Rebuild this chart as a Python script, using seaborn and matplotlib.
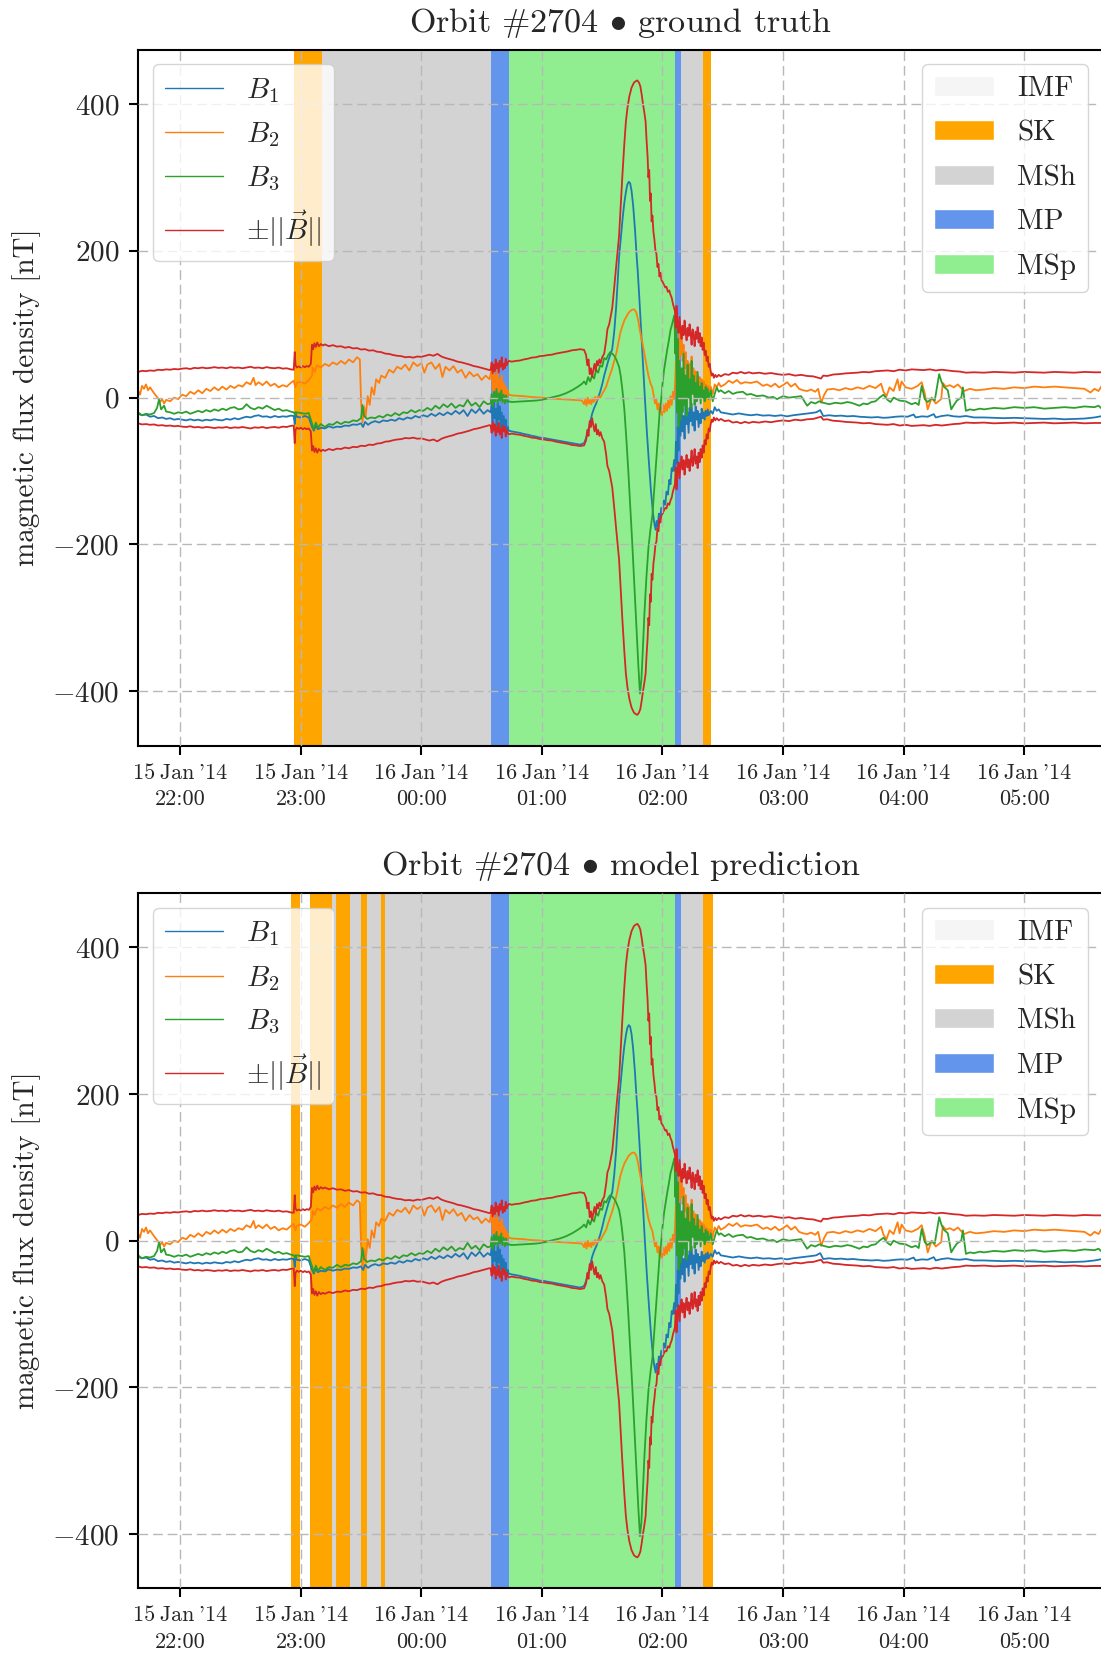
import pandas as pd
import matplotlib
matplotlib.use("Agg")
import matplotlib.pyplot as plt
import matplotlib.dates as mdates
from matplotlib.lines import Line2D
from matplotlib.patches import Patch
import seaborn as sns

# minutes after 15 Jan 2014 22:00, value in nT
bmag_pts = [
    (-21, 35), (-19, 36.5), (-17, 36), (-15, 37), (-13, 36.5), (-11, 38), (-9, 37.5), (-7, 38.5), (-5, 38), (-3, 39),
    (-1, 38.5), (1, 39.5), (3, 40), (5, 39), (7, 40.5), (9, 40), (11, 41), (13, 40), (15, 40.5), (17, 41.5),
    (19, 40.5), (21, 41), (23, 40), (25, 41.5), (27, 40.5), (29, 41), (31, 40), (33, 41), (35, 42), (37, 40.5),
    (39, 41), (41, 40), (43, 41.5), (45, 40.5), (47, 40), (49, 41), (51, 39.5), (53, 40), (55, 38.5), (56.5, 38),
    (57, 62), (57.4, 44), (58, 41), (59, 42.5), (60, 41), (61, 43), (62, 41.5), (63, 43), (64, 42), (65, 46),
    (65.6, 72), (66.2, 66), (66.8, 74), (67.5, 69), (68.2, 75), (69, 70), (70, 73), (71, 71), (72, 72.5), (74, 70),
    (76, 71.5), (78, 69.5), (80, 70), (82, 68), (84, 69), (86, 67), (88, 67.5), (90, 65.5), (92, 66), (94, 64),
    (96, 64.5), (98, 62.5), (100, 62), (102, 60), (104, 59.5), (106, 58), (108, 57), (110, 56.5), (112, 55), (114, 55.5),
    (116, 54.5), (118, 56), (120, 55.5), (122, 57), (124, 58.5), (126, 57), (128, 59.5), (130, 56), (132, 54), (134, 52.5),
    (136, 51), (138, 49), (140, 48), (142, 46.5), (144, 45), (146, 43), (148, 42), (150, 40.5), (152, 39), (154, 37.5),
    (154.5, 38), (155, 48), (155.5, 33), (156, 45), (156.5, 36), (157, 52), (157.5, 40), (158, 47), (158.5, 34), (159, 50),
    (159.5, 42), (160, 55), (160.5, 38), (161, 46), (161.5, 40), (162, 53), (162.5, 44), (163, 48), (163.5, 50),
    (165, 49), (167, 50), (169, 50.5), (171, 52), (173, 53), (175, 54.5), (177, 55), (179, 56.5), (181, 57), (183, 58),
    (185, 58.5), (187, 60), (189, 61), (191, 62), (193, 63), (195, 64.5), (197, 65), (199, 66), (201, 65), (202, 58),
    (202.6, 44), (203.2, 52), (203.8, 32), (204.4, 40), (205, 28), (205.6, 38), (206.2, 46), (206.8, 36), (207.4, 50), (208, 44),
    (208.6, 52), (209.2, 47), (210, 55), (211, 60), (212, 78), (212.6, 93), (213.5, 100), (214.3, 112), (215, 122), (216, 150),
    (217, 180), (218.4, 220), (219.2, 260), (220, 300), (221, 345), (221.8, 376), (222.6, 395), (223.5, 410), (224.6, 422), (225.8, 429),
    (226.7, 431), (227.5, 432), (228.3, 429), (229, 424), (229.7, 412), (230.3, 400), (231, 388), (231.6, 376), (232.1, 350), (232.6, 328),
    (233, 300), (233.4, 310), (233.8, 268), (234.2, 278), (234.6, 240), (235, 248), (235.5, 226), (236, 215), (236.5, 200), (237, 196),
    (237.5, 178), (238, 182), (238.5, 165), (239, 170), (239.5, 160), (240, 158), (240.7, 154), (241.4, 150), (242, 151), (242.7, 144),
    (243.4, 146), (244, 140), (244.6, 136), (245.2, 128), (245.8, 122), (246.2, 118),
    (246.6, 95), (247, 125), (247.5, 100), (248, 88), (248.5, 110), (249, 92), (249.5, 80), (250, 98), (250.5, 85), (251, 105),
    (251.5, 90), (252, 78), (252.5, 95), (253, 84), (253.5, 100), (254, 88), (254.5, 72), (255, 93), (255.5, 85), (256, 70),
    (256.5, 90), (257, 80), (257.5, 96), (258, 75), (258.5, 88), (259, 70), (259.5, 82), (260, 65), (260.5, 75), (261, 58),
    (261.5, 64), (262, 50), (262.5, 56), (263, 42), (263.5, 46), (264, 36), (264.5, 30), (265, 33), (265.6, 27), (266.3, 31),
    (267, 28), (268, 31), (269, 29),
    (271, 32), (273, 31), (275, 34), (277, 33), (279, 35), (281, 33), (283, 34.5), (285, 33), (288, 34), (291, 32.5),
    (294, 33.5), (297, 32), (300, 31), (303, 32), (306, 30), (309, 31), (312, 29.5), (315, 29), (317, 27.5), (318.9, 26),
    (320, 30), (322, 29.5), (325, 31.5), (328, 32), (331, 33), (334, 33.5), (337, 34), (340, 35), (343, 34.5), (346, 36),
    (349, 36.5), (352, 37), (355, 36), (358, 38), (361, 37), (364, 38.5), (367, 38), (370, 37.5), (373, 38.5), (376, 37),
    (379, 38), (382, 37), (385, 36), (388, 35.5), (391, 34), (395, 34.5), (400, 34), (405, 35), (410, 34.5), (415, 34),
    (420, 35), (425, 34.5), (430, 34), (435, 35), (440, 34.5), (445, 34), (450, 35), (455, 34.5), (459, 34.5),
]

b1_pts = [
    (-21, -22), (-19, -24), (-17, -23), (-15, -26), (-13, -25), (-11, -28), (-9, -27), (-7, -29), (-5, -28), (-3, -30),
    (-1, -29), (1, -30), (3, -31), (5, -29.5), (7, -31), (9, -30), (11, -31.5), (13, -30), (15, -31), (17, -29.5),
    (19, -30.5), (21, -31), (23, -29), (25, -30), (27, -28), (29, -29.5), (31, -27.5), (33, -26), (35, -27), (37, -25),
    (39, -24), (41, -26), (43, -25.5), (45, -27), (47, -25), (49, -26.5), (51, -25.5), (53, -26), (55, -24.5), (56.5, -25),
    (57, -36), (57.4, -20), (58, -26), (60, -27), (62, -25), (64, -27), (65.6, -40), (66.5, -45), (67.5, -38), (68.5, -43),
    (70, -41), (72, -42), (74, -39), (76, -41), (78, -39.5), (80, -40), (82, -38), (84, -38.5), (86, -36.5), (88, -37),
    (90, -35), (91, -40), (92, -33), (93.5, -37), (95, -34), (97, -32), (99, -34), (101, -31), (103, -32), (105, -30),
    (107, -31.5), (109, -28), (111, -30), (113, -27), (115, -28.5), (117, -25), (119, -27), (121, -24), (123, -26), (125, -22),
    (127, -25), (129, -21), (131, -24), (133, -20), (135, -23), (137, -18), (139, -22), (141, -17), (143, -25), (145, -16),
    (147, -21), (149, -15), (151, -22), (153, -17), (154.5, -20),
    (155, -10), (155.5, -35), (156, -5), (156.5, -28), (157, -15), (157.5, -38), (158, -8), (158.5, -30), (159, -12), (159.5, -40),
    (160, -20), (160.5, -45), (161, -25), (161.5, -42), (162, -30), (162.5, -48), (163, -40), (163.5, -45),
    (165, -46), (167, -47), (169, -48), (171, -49.5), (173, -50.5), (175, -52), (177, -53), (179, -54.5), (181, -55), (183, -56),
    (185, -57), (187, -58), (189, -59), (191, -60), (193, -61), (195, -62), (197, -63), (199, -64), (201, -62), (202, -55),
    (203, -45), (204, -34), (205, -22), (206, -14), (207, -8), (208, 0), (209, 8), (210, 18), (211, 30), (212, 40),
    (213, 50), (214, 58), (215, 66), (216, 90), (217, 125), (218.4, 191), (219.3, 218), (220.2, 245), (221, 265), (221.8, 280),
    (222.5, 290), (223.2, 294), (223.9, 292), (224.6, 282), (225.4, 262), (226.3, 230), (227.1, 195), (227.7, 172), (228.5, 135), (229.4, 90),
    (230.3, 45), (231.2, 2), (232.2, -45), (233.3, -90), (234.3, -128), (235.3, -158), (236, -172), (236.6, -180), (237.1, -168), (237.6, -176),
    (238.2, -158), (238.8, -166), (239.4, -150), (240, -158), (240.7, -140), (241.4, -146), (242, -128), (242.7, -132), (243.4, -112), (244, -118),
    (244.6, -96), (245.2, -100), (245.8, -85),
    (246.3, -100), (246.7, -60), (247.2, -90), (247.6, -40), (248, -72), (248.5, -20), (249, -52), (249.5, -15), (250, -46), (250.5, -25),
    (251, -56), (251.5, -10), (252, -36), (252.5, -20), (253, -48), (253.5, -14), (254, -32), (254.5, -8), (255, -38), (255.5, -20),
    (256, -45), (256.5, -12), (257, -30), (257.5, -18), (258, -40), (258.5, -22), (259, -35), (259.5, -15), (260, -28), (260.5, -20),
    (261, -30), (261.5, -18), (262, -25), (262.5, -16), (263, -24), (264, -18), (265, -22), (266, -13), (267, -18), (268, -16),
    (269, -20),
    (271, -21), (273, -22), (275, -23), (278, -21.5), (281, -23), (284, -24), (287, -23), (290, -24.5), (293, -24), (296, -25),
    (299, -24), (302, -25.5), (305, -24), (308, -23), (311, -22), (314, -21), (316.5, -20), (318.5, -17), (320, -25), (323, -24),
    (326, -25), (329, -24.5), (332, -25.5), (335, -25), (338, -26), (341, -26.5), (344, -27), (347, -26.5), (350, -27.5), (353, -27),
    (356, -26), (359, -25.5), (362, -26), (365, -23), (366, -27), (369, -25.5), (372, -26), (375, -22.5), (376, -27), (379, -25),
    (382, -24), (385, -25.5), (388, -26), (391, -25), (395, -27), (400, -27), (405, -27.5), (410, -28), (415, -27.5), (420, -28),
    (425, -28.5), (430, -29), (435, -28.5), (440, -29.5), (445, -29), (450, -28.5), (455, -27), (459, -25),
]

b2_pts = [
    (-21, 10), (-20, 4), (-19, 16), (-18, 12), (-17, 18), (-16, 10), (-15, 14), (-13, 6), (-11, -1), (-10, -6),
    (-9, -2), (-8, -8), (-7, -3), (-5, -5), (-3, 0), (-1, -2), (1, 4), (3, 2), (5, 8), (7, 5),
    (9, 10), (11, 6), (13, 12), (15, 9), (17, 14), (19, 10), (21, 15), (23, 11), (25, 16), (27, 13),
    (29, 17), (31, 15), (33, 21), (35, 18), (36.5, 27), (37.5, 17), (39, 21), (41, 17), (43, 22), (45, 16),
    (47, 19), (49, 14), (51, 17), (53, 15), (55, 20), (56.5, 23),
    (57.3, 14), (58, 20), (60, 22), (62, 19), (64, 24), (65.6, 30), (66, 41), (67, 35), (68, 44), (70, 41),
    (72, 46), (74, 43), (76, 48), (78, 45), (80, 50), (82, 46), (84, 52), (86, 48), (88, 55), (89.4, 52),
    (90, -5), (90.7, -34), (91.5, -12), (92.3, -26), (93.3, 2), (94.3, -10), (95.3, 14), (96.5, 4), (97.5, 25), (99, 20),
    (100, 30), (102, 27), (104, 38), (106, 34), (108, 42), (110, 39), (112, 45), (114, 37), (116, 48), (118, 43),
    (120, 47), (121.5, 34), (123, 45), (125, 48), (127, 39), (129, 46), (130.5, 28), (132, 42), (134, 37), (136, 43),
    (138, 34), (140, 38), (142, 27), (144, 35), (146, 29), (148, 32), (150, 24), (152, 30), (154, 25),
    (155, 40), (155.5, 10), (156, 35), (156.5, -5), (157, 30), (157.5, 5), (158, 42), (158.5, 0), (159, 25), (159.5, 8),
    (160, 30), (160.5, -6), (161, 20), (161.5, 4), (162, 15), (162.5, -2), (163, 10), (163.5, 4),
    (165, 3), (168, 2.5), (171, 2), (174, 1), (177, 0.5), (180, 0), (183, -1), (186, -1.5), (189, -2), (192, -2.5),
    (195, -3), (198, -3.5), (200, -4), (201, -9), (201.6, -2), (202.2, -11), (202.8, 0), (203.4, -8), (204, -3), (204.6, -9),
    (205.2, -1), (205.8, -6), (206.5, 1), (207.2, -4), (208, 2), (209, 0), (210, 5), (211, 10), (212, 15), (213, 24),
    (214, 32), (215, 40), (216, 50), (217, 60), (218, 74), (219, 88), (220, 97), (221, 105), (222, 110), (223, 115),
    (224, 118), (225, 120), (226, 120), (227, 116), (228, 104), (229, 88), (230, 75), (231, 60), (232, 45), (233, 30),
    (234, 20), (235, 13), (235.7, 2), (236.3, -8), (236.9, -2), (237.5, -16), (238.1, -8), (238.6, -22), (239.2, -12), (239.8, -24),
    (240.4, -10), (241, -20), (241.6, -8), (242.2, -18), (242.8, -4), (243.4, -14), (244, 2), (244.6, -10), (245.2, 8), (245.8, -2),
    (246.3, 20), (246.7, 50), (247.2, 10), (247.6, 62), (248, 30), (248.5, 92), (249, 58), (249.5, 96), (250, 50), (250.5, 72),
    (251, 40), (251.5, 62), (252, 30), (252.5, 50), (253, 20), (253.5, 46), (254, 25), (254.5, 56), (255, 15), (255.5, 40),
    (256, 20), (256.5, 36), (257, 10), (257.5, 30), (258, 15), (258.5, 28), (259, 8), (259.5, 25), (260, 12), (260.5, 22),
    (261, 5), (261.5, 18), (262, 8), (262.5, 16), (263, 10), (264, 15), (265, 5), (266, 18), (267, 14), (268, 20),
    (269, 15),
    (271, 18), (273, 23), (275, 20), (277, 24), (279, 19), (281, 21), (284, 20), (287, 22), (290, 16), (292, 18),
    (294, 15), (296, 19), (298, 14), (300, 17), (302, 21), (304, 15), (306, 19), (308, 12), (310, 10), (312, 9),
    (314, 11), (316, 8), (317.5, 12), (319, -7), (320.5, 4), (322, 11), (325, 12), (328, 10), (331, 13), (334, 11),
    (337, 14), (340, 12), (343, 16), (346, 13), (348.8, 19), (350, 8), (351.5, 2), (353, 14), (355, 9), (357, 25),
    (358, 10), (359, 22), (361, 14), (364, 12), (367, 16), (369, 21), (370.5, 6), (372, -16), (374, 0), (376, -8),
    (378.7, -2), (379.5, 20), (381, 15), (383, 17), (385, 14), (387, 18), (390, 9), (393, 12), (396, 10), (400, 11),
    (405, 13), (410, 12), (415, 14), (420, 13), (425, 15), (430, 14), (435, 15), (440, 14), (445, 13), (450, 12),
    (453, 7), (455, 12), (457, 9), (459, 18),
]

b3_pts = [
    (-21, -20), (-19, -24), (-17, -22), (-15, -23), (-13, -21), (-11.5, -14), (-10.5, -2), (-9.5, -16), (-8, -11), (-7, -19),
    (-5, -20), (-3, -22), (-1, -20), (1, -21), (3, -19), (5, -22), (7, -20), (9, -18), (11, -20), (13, -17),
    (15, -19), (17, -16), (19, -18), (21, -15), (23, -17), (25, -14), (27, -13), (29, -16), (31, -15), (33, -9),
    (35, -14), (37, -16), (39, -13), (41, -15), (43, -11), (45, -14), (47, -17), (49, -15), (51, -18), (53, -17),
    (55, -19), (56.5, -20),
    (57.3, -24), (58, -20), (60, -21), (62, -22), (64, -21), (65.6, -35), (66.5, -43), (67.5, -34), (68.5, -41), (70, -36),
    (72, -40), (74, -36), (76, -37), (78, -33), (80, -36), (82, -33), (84, -34), (86, -31), (88, -32), (90, -28),
    (90.7, -10), (91.5, -25), (93, -29), (95, -27), (97, -28), (99, -25), (101, -27), (103, -23), (105, -25), (107, -21),
    (109, -24), (111, -20), (113, -21), (115, -17), (117, -20), (119, -17), (121, -18), (123, -14), (125, -17), (127, -11),
    (129, -15), (131, -9), (133, -13), (135, -8), (137, -14), (139, -10), (141, -12), (143, -3), (145, -11), (147, -7),
    (149, -13), (151, -5), (153, -9), (154.5, -8),
    (155, 5), (155.6, -12), (156.2, 8), (156.8, -5), (157.4, 12), (158, -8), (158.6, 6), (159.2, -4), (159.8, 10), (160.4, -6),
    (161, 4), (161.6, -8), (162.2, 3), (162.8, -6), (163.5, -5),
    (165, -6), (168, -5.5), (171, -5), (174, -4.5), (177, -4), (180, -3), (183, -1), (186, 1), (189, 3), (192, 6),
    (195, 10), (198, 15), (200, 19), (201, 22), (202, 18), (203, 28), (204, 22), (205, 30), (206, 26), (207, 38),
    (208, 34), (209, 44), (210, 42), (211, 54), (212, 52), (213, 58), (214, 62), (215, 60), (216, 57), (217, 52),
    (218.4, 42), (219.2, 30), (220, 12), (221, -15), (222, -55), (223, -100), (224, -150), (225, -200), (226, -255), (227, -310),
    (228, -365), (228.8, -403), (229.5, -385), (230.2, -345), (231, -295), (232, -245), (233, -205), (234, -180), (235, -160), (236, -122),
    (237, -82), (238, -42), (238.6, -20), (239.2, -8), (240, 18), (240.8, 38), (241.6, 52), (242.4, 66), (243.2, 78), (244, 92),
    (244.8, 100), (245.5, 108), (246, 112),
    (246.4, 60), (246.8, 100), (247.2, -20), (247.6, 80), (248, -40), (248.5, 50), (249, -30), (249.5, 40), (250, -20), (250.5, 60),
    (251, -10), (251.5, 30), (252, -25), (252.5, 45), (253, 0), (253.5, 25), (254, -15), (254.5, 50), (255, 5), (255.5, 30),
    (256, -10), (256.5, 20), (257, -5), (257.5, 35), (258, 0), (258.5, 15), (259, -8), (259.5, 20), (260, 0), (260.5, 10),
    (261, -5), (261.5, 15), (262, 0), (262.5, 12), (263, -2), (264, 10), (265, -5), (266, 5), (267, 14), (268, 8),
    (269, 10),
    (271, 6), (273, 9), (275, 5), (277, 7), (280, 8), (282, 4), (284, 5), (287, 2), (290, 3), (293, 0),
    (295, 1), (297, -2), (300, 2), (303, 0), (306, 1), (309, 2), (312, -11), (314, -6), (316, -8), (318, -5),
    (320, -7), (323, -9), (326, -7), (329, -8), (332, -6), (334, -7), (336, -9), (338, -11), (340, -8), (342, -9),
    (344, -6), (346, -5), (348, 0), (350, 4), (352, -3), (353.5, -6), (355, 0), (356.5, -2), (358, -4), (361, -5),
    (364, -9), (366, -7), (367.5, -10), (369, 16), (370.5, -2), (372, -6), (374, -1), (375.5, -4), (377.7, 32), (378.8, 22),
    (380, 15), (382, 10), (383.7, -16), (385, -10), (386.5, -4), (388.7, 0), (389.5, 14), (391, -18), (393, -16), (395, -17),
    (398, -15), (400, -16), (405, -14), (410, -15), (415, -13), (420, -14), (425, -13), (430, -15), (435, -14), (440, -13),
    (445, -14), (450, -12), (455, -13), (457, -11), (459, -16),
]

# region labels, start / end in minutes after 22:00
truth_spans = [
    ("IMF", -21, 56.5), ("SK", 56.5, 70.4), ("MSh", 70.4, 154.5), ("MP", 154.5, 163.5),
    ("MSp", 163.5, 246.1), ("MP", 246.1, 249.1), ("MSh", 249.1, 260.2), ("SK", 260.2, 264.4),
    ("IMF", 264.4, 459),
]
pred_spans = [
    ("IMF", -21, 55.3), ("SK", 55.3, 59.8), ("IMF", 59.8, 64.7), ("SK", 64.7, 75.7),
    ("MSh", 75.7, 77.7), ("SK", 77.7, 84.7), ("MSh", 84.7, 90.2), ("SK", 90.2, 93.1),
    ("MSh", 93.1, 100.1), ("SK", 100.1, 102.1), ("MSh", 102.1, 154.5), ("MP", 154.5, 163.5),
    ("MSp", 163.5, 246.1), ("MP", 246.1, 249.1), ("MSh", 249.1, 260.1), ("SK", 260.1, 265.1),
    ("IMF", 265.1, 459),
]

regions = ["IMF", "SK", "MSh", "MP", "MSp"]
region_colors = {"IMF": "whitesmoke", "SK": "orange", "MSh": "lightgray",
                 "MP": "cornflowerblue", "MSp": "lightgreen"}

base = pd.Timestamp("2014-01-15 22:00")


def to_time(minutes):
    return base + pd.to_timedelta(list(minutes), unit="min")


sns.set_style("ticks")
plt.rcParams["font.family"] = ["cmr10", "DejaVu Serif"]
plt.rcParams["mathtext.fontset"] = "cm"
plt.rcParams["axes.formatter.use_mathtext"] = True
plt.rcParams["axes.unicode_minus"] = True

fig = plt.figure(figsize=(11.01, 16.53), dpi=100)
ax_top = fig.add_axes([0.1257, 0.5489, 0.8757, 0.4211])
ax_bot = fig.add_axes([0.1257, 0.0392, 0.8757, 0.4205])

series = [(b1_pts, "tab:blue"), (b2_pts, "tab:orange"), (b3_pts, "tab:green")]
LW = 1.3


def draw(ax, spans, title):
    for name, s, e in spans:
        # the IMF background stays white in the plot, only the legend shows its colour
        if name == "IMF":
            continue
        ax.axvspan(base + pd.Timedelta(minutes=s), base + pd.Timedelta(minutes=e),
                   color=region_colors[name], lw=0, zorder=0.5)

    for pts, col in series:
        t, v = zip(*pts)
        sns.lineplot(x=to_time(t), y=list(v), ax=ax, color=col, lw=LW,
                     estimator=None, sort=False, legend=False)
    t, v = zip(*bmag_pts)
    sns.lineplot(x=to_time(t), y=list(v), ax=ax, color="tab:red", lw=LW,
                 estimator=None, sort=False, legend=False)
    sns.lineplot(x=to_time(t), y=[-x for x in v], ax=ax, color="tab:red", lw=LW,
                 estimator=None, sort=False, legend=False)

    ax.set_xlim(base + pd.Timedelta(minutes=-20.8), base + pd.Timedelta(minutes=459))
    ax.set_ylim(-474, 474)
    ax.set_yticks([-400, -200, 0, 200, 400])
    ax.xaxis.set_major_locator(mdates.HourLocator())
    # thin spaces: the cmr10 word space is much wider than the one in the reference
    ax.xaxis.set_major_formatter(mdates.DateFormatter("%d\u2009%b\u2009'%y\n%H:%M"))
    ax.grid(True, color="#b8b8b8", linestyle=(0, (7, 3.5)), linewidth=1.0)
    ax.set_axisbelow(False)
    for sp in ax.spines.values():
        sp.set_linewidth(1.5)
        sp.set_color("black")
    ax.tick_params(axis="y", labelsize=21, length=6.5, width=1.5, pad=7, color="black")
    ax.tick_params(axis="x", labelsize=16, length=6.5, width=1.5, pad=6, color="black")
    for lab in ax.get_xticklabels():
        lab.set_horizontalalignment("center")
        lab.set_linespacing(1.45)
    ax.set_xlabel("")
    ax.set_ylabel("magnetic flux density [nT]", fontsize=21)
    ax.yaxis.set_label_coords(-0.101, 0.5)
    ax.set_title(title, fontsize=24.5, pad=13)

    line_handles = [
        Line2D([], [], color="tab:blue", lw=1.0, label=r"$B_1$"),
        Line2D([], [], color="tab:orange", lw=1.0, label=r"$B_2$"),
        Line2D([], [], color="tab:green", lw=1.0, label=r"$B_3$"),
        Line2D([], [], color="tab:red", lw=1.0, label=r"$\pm||\vec{B}||$"),
    ]
    leg1 = ax.legend(handles=line_handles, loc="upper left", fontsize=21,
                     handlelength=2.0, handletextpad=0.8, labelspacing=0.53,
                     framealpha=0.8)
    ax.add_artist(leg1)
    patch_handles = [Patch(facecolor=region_colors[r], label=r) for r in regions]
    ax.legend(handles=patch_handles, loc="upper right", fontsize=21,
              handlelength=2.05, handleheight=0.68, handletextpad=0.8,
              labelspacing=0.62, framealpha=0.8)


draw(ax_top, truth_spans, r"Orbit #2704 $\bullet$ ground truth")
draw(ax_bot, pred_spans, r"Orbit #2704 $\bullet$ model prediction")

fig.savefig("out.png", dpi=100)
